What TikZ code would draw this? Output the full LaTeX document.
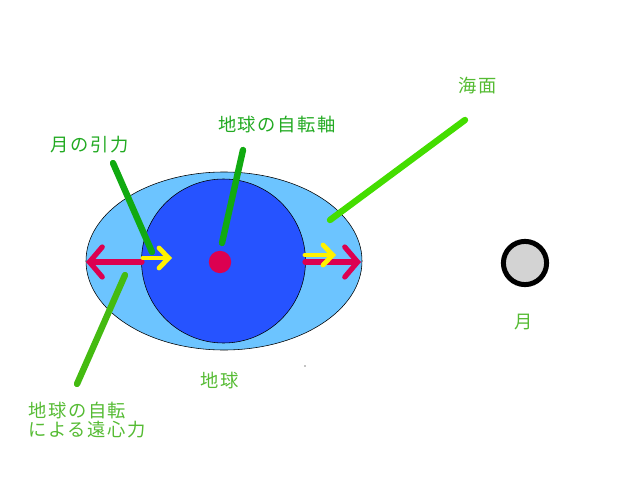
\documentclass[tikz,border=0pt]{standalone}
\usepackage{fontspec}
\setmainfont[LetterSpace=9]{Noto Sans CJK JP}
\usetikzlibrary{arrows.meta,shapes.geometric}
\definecolor{seablue}{HTML}{6CC4FF}
\definecolor{earthblue}{HTML}{2653FF}
\definecolor{pullred}{HTML}{DC0050}
\definecolor{moongray}{HTML}{D3D3D3}
\definecolor{darkleaf}{HTML}{11AA11}
\definecolor{lightleaf}{HTML}{44DD00}
\definecolor{midleaf}{HTML}{44BB11}
\definecolor{labelgreen}{HTML}{22AA22}
\definecolor{softgreen}{HTML}{55BB33}

\begin{document}
\begin{tikzpicture}[font=\fontsize{13}{14}\selectfont,
    leader/.style={line width=1.6mm, line cap=round},
    bigarrow/.style={pullred, line width=1.3mm, line cap=round,
      -{Straight Barb[length=3.2mm, width=7.5mm, line cap=round]}},
    smallarrow/.style={yellow, line width=1.2mm, line cap=round,
      -{Straight Barb[length=2.4mm, width=5mm, line cap=round]}}]
    \useasboundingbox (0,0) rectangle (16,12);
    \node[ellipse, draw, fill=seablue, minimum width=6.9cm, minimum height=4.45cm, inner sep=0pt] (sea) at (5.6,5.475) {};
    \node[circle, draw, fill=earthblue, minimum size=4.1cm, inner sep=0pt] (earth) at (5.5875,5.475) {};
    \node[circle, fill=pullred, minimum size=5.6mm, inner sep=0pt] (axis) at (5.5,5.45) {};
    \node[circle, draw, line width=1.25mm, fill=moongray, minimum size=10.8mm, inner sep=0pt] (moon) at (13.125,5.425) {};
    \fill (7.625,2.85) circle (0.4pt);
    % forces
    \coordinate (lin) at (3.55,5.45);
    \coordinate (lout) at (2.15,5.45);
    \coordinate (rin) at (7.625,5.45);
    \coordinate (rout) at (9.025,5.45);
    \draw[bigarrow] (lin) -- (lout);
    \draw[bigarrow] (rin) -- (rout);
    \coordinate (ya) at (3.575,5.55);
    \coordinate (yb) at (4.3,5.55);
    \coordinate (yc) at (7.625,5.625);
    \coordinate (yd) at (8.4,5.625);
    \draw[smallarrow] (ya) -- (yb);
    \draw[smallarrow] (yc) -- (yd);
    % labels
    \node[text=labelgreen] (gravity) at (2.2375,8.375) {月の引力};
    \node[text=labelgreen] (spin) at (6.925,8.875) {地球の自転軸};
    \node[text=softgreen] (surface) at (11.95,9.85) {海面};
    \node[text=softgreen] (earthname) at (5.5,2.475) {地球};
    \node[text=softgreen] (moonname) at (13.1,3.95) {月};
    \node[text=softgreen, align=left, anchor=west, inner sep=0pt] (centri) at (0.7,1.5) {地球の自転\\による遠心力};
    % leaders
    \coordinate (g1) at (2.825,7.925);
    \coordinate (g2) at (3.8,5.7);
    \coordinate (s1) at (6.075,8.25);
    \coordinate (s2) at (5.55,5.925);
    \coordinate (w1) at (11.625,9.0);
    \coordinate (w2) at (8.25,6.5);
    \coordinate (c1) at (3.125,5.125);
    \coordinate (c2) at (1.925,2.4);
    \draw[leader, darkleaf] (g1) -- (g2);
    \draw[leader, darkleaf] (s1) -- (s2);
    \draw[leader, lightleaf] (w1) -- (w2);
    \draw[leader, midleaf] (c1) -- (c2);
\end{tikzpicture}
\end{document}
